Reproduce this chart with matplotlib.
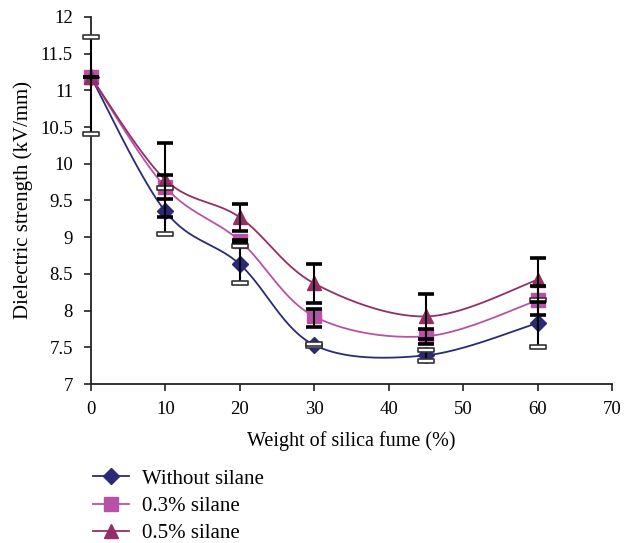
import numpy as np
import matplotlib
matplotlib.use('Agg')
import matplotlib.pyplot as plt
from matplotlib.path import Path

plt.rcParams['font.family'] = ['Liberation Serif', 'DejaVu Serif']

# silica fume content (%)
fume = [0, 10, 20, 30, 45, 60]

# dielectric strength (kV/mm)
no_silane = [11.18, 9.35, 8.63, 7.53, 7.39, 7.83]
silane_03 = [11.18, 9.68, 8.95, 7.92, 7.65, 8.14]
silane_05 = [11.18, 9.78, 9.27, 8.37, 7.92, 8.42]

# error bars (lower, upper)
no_silane_lo = [0.78, 0.30, 0.25, 0.01, 0.08, 0.32]
no_silane_hi = [0.54, 0.32, 0.25, 0.01, 0.08, 0.32]
silane_03_lo = [0.00, 0.16, 0.01, 0.15, 0.10, 0.20]
silane_03_hi = [0.00, 0.17, 0.01, 0.10, 0.10, 0.20]
silane_05_lo = [0.00, 0.50, 0.18, 0.26, 0.31, 0.30]
silane_05_hi = [0.00, 0.50, 0.18, 0.26, 0.31, 0.30]

labels = ['Without silane', '0.3% silane', '0.5% silane']
xticks = [0, 10, 20, 30, 40, 50, 60, 70]
yticks = [7, 7.5, 8, 8.5, 9, 9.5, 10, 10.5, 11, 11.5, 12]


def smooth(xs, ys, n=40):
    # excel style smoothed line (bezier through the points)
    p = np.column_stack([xs, ys]).astype(float)
    p = np.vstack([p[0], p, p[-1]])
    out = []
    t = np.linspace(0, 1, n)[:, None]
    for i in range(1, len(p) - 2):
        a, b = p[i], p[i + 1]
        c1 = a + (p[i + 1] - p[i - 1]) / 6
        c2 = b - (p[i + 2] - p[i]) / 6
        seg = ((1 - t) ** 3) * a + 3 * ((1 - t) ** 2) * t * c1 + 3 * (1 - t) * t ** 2 * c2 + t ** 3 * b
        out.append(seg)
    out = np.vstack(out)
    return out[:, 0], out[:, 1]


cap_box = Path([(-1, -0.22), (1, -0.22), (1, 0.22), (-1, 0.22), (-1, -0.22)],
               [Path.MOVETO, Path.LINETO, Path.LINETO, Path.LINETO, Path.CLOSEPOLY])

fig = plt.figure(figsize=(6.25, 5.43), dpi=100)
ax = fig.add_axes([0.1456, 0.2928, 0.8336, 0.676])

series = [
    (no_silane, no_silane_lo, no_silane_hi, '#2a2a78', 'D', 8, True),
    (silane_03, silane_03_lo, silane_03_hi, '#b852a6', 's', 9.5, False),
    (silane_05, silane_05_lo, silane_05_hi, '#952d66', '^', 10, False),
]

handles = []
for (vals, lo, hi, col, mk, ms, hollow), lab in zip(series, labels):
    sx, sy = smooth(fume, vals)
    ax.plot(sx, sy, color=col, lw=1.3, zorder=2, clip_on=False)
    ax.plot(fume, vals, ls='none', marker=mk, ms=ms, color=col, mec=col,
            zorder=3, clip_on=False)
    handles.append(ax.plot([], [], color=col, lw=1.3, marker=mk, ms=ms)[0])

for vals, lo, hi, col, mk, ms, hollow in series:
    eb = ax.errorbar(fume, vals, yerr=[lo, hi], fmt='none', ecolor='black',
                     elinewidth=1.5, capsize=6, capthick=2.6, zorder=4)
    for c in eb[1]:
        c.set_clip_on(False)
        if hollow:
            c.set_marker(cap_box)
            c.set_markersize(12)
            c.set_markerfacecolor('white')
            c.set_markeredgecolor('#333333')
            c.set_markeredgewidth(1.2)
    for l in eb[2]:
        l.set_clip_on(False)

ax.set_xlim(0, 70)
ax.set_ylim(7, 12)
ax.set_xticks(xticks)
ax.set_yticks(yticks)
ax.set_yticklabels([('%g' % v) for v in yticks])
ax.spines['top'].set_visible(False)
ax.spines['right'].set_visible(False)
for s in ['left', 'bottom']:
    ax.spines[s].set_linewidth(1.3)
    ax.spines[s].set_color('#222222')
ax.tick_params(direction='out', length=5, width=1.2, labelsize=13.5, colors='#222222',
               labelcolor='black')
ax.tick_params(axis='y', pad=8)
ax.tick_params(axis='x', pad=7)
ax.set_xlabel('Weight of silica fume (%)', fontsize=14.5, labelpad=10)
ax.set_ylabel('Dielectric strength (kV/mm)', fontsize=15, labelpad=5)

fig.legend(handles, labels, loc='upper left', bbox_to_anchor=(0.149, 0.136),
           frameon=False, fontsize=15, handlelength=1.7, labelspacing=0.36,
           handletextpad=0.65, borderaxespad=0, borderpad=0)

fig.savefig('out.png', dpi=100)
